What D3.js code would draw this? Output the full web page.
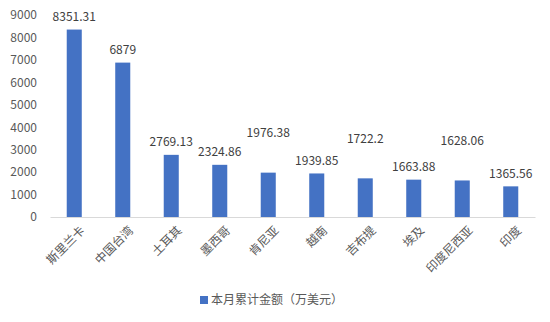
<!DOCTYPE html>
<html>
<head>
<meta charset="utf-8">
<script src="https://cdn.jsdelivr.net/npm/d3@7"></script>
<style>
  body { margin: 0; background: #fff; }
  text { font-family: "Noto Sans CJK SC", "Noto Sans", sans-serif; }
</style>
</head>
<body>
<svg width="550" height="322"></svg>
<script>
// data
var categories = ["斯里兰卡", "中国台湾", "土耳其", "墨西哥", "肯尼亚", "越南", "吉布提", "埃及", "印度尼西亚", "印度"];
var values = [8351.31, 6879, 2769.13, 2324.86, 1976.38, 1939.85, 1722.2, 1663.88, 1628.06, 1365.56];
var yTicks = [0, 1000, 2000, 3000, 4000, 5000, 6000, 7000, 8000, 9000];
var seriesName = "本月累计金额（万美元）";

var svg = d3.select("svg"),
    margin = { top: 15, right: 15, bottom: 105, left: 50 },
    width = +svg.attr("width") - margin.left - margin.right,
    height = +svg.attr("height") - margin.top - margin.bottom;

var x = d3.scaleBand().domain(categories).range([0, width]).paddingInner(0.69).paddingOuter(0.345),
    y = d3.scaleLinear().domain([0, 9000]).range([height, 0]);

var g = svg.append("g")
    .attr("transform", "translate(" + margin.left + "," + margin.top + ")");

// y axis, no line
var yAxis = g.append("g")
    .call(d3.axisLeft(y).tickValues(yTicks).tickSize(0).tickPadding(13).tickFormat(d3.format("d")));
yAxis.select(".domain").remove();
yAxis.selectAll("text").attr("fill", "#595959").style("font-size", "12px");

// x axis
var xAxis = g.append("g")
    .attr("transform", "translate(0," + height + ")")
    .call(d3.axisBottom(x).tickSize(0).tickSizeOuter(0));
xAxis.select(".domain").attr("stroke", "#d9d9d9");
xAxis.selectAll("text")
    .attr("fill", "#595959")
    .style("font-size", "12px")
    .attr("text-anchor", "end")
    .attr("dx", "-2px")
    .attr("dy", "15px")
    .attr("transform", "rotate(-45)");

// bars
g.selectAll(".bar")
    .data(values)
    .enter().append("rect")
    .attr("class", "bar")
    .attr("x", function(d, i) { return x(categories[i]); })
    .attr("y", function(d) { return y(d); })
    .attr("width", x.bandwidth())
    .attr("height", function(d) { return height - y(d); })
    .attr("fill", "#4472C4");

// value labels, some lifted like the original
var lifted = ["肯尼亚", "吉布提", "印度尼西亚"];
g.selectAll(".lbl")
    .data(values)
    .enter().append("text")
    .attr("class", "lbl")
    .attr("x", function(d, i) { return x(categories[i]) + x.bandwidth() / 2; })
    .attr("y", function(d, i) { return y(d) - (lifted.indexOf(categories[i]) >= 0 ? 40 : 13); })
    .attr("dy", "0.35em")
    .attr("text-anchor", "middle")
    .attr("fill", "#404040")
    .style("font-size", "12px")
    .text(function(d) { return d; });

// legend
var legend = svg.append("g").attr("transform", "translate(200,300)");
legend.append("rect").attr("x", 0).attr("y", -4).attr("width", 8).attr("height", 8).attr("fill", "#4472C4");
legend.append("text")
    .attr("x", 11).attr("dy", "0.35em")
    .attr("fill", "#595959")
    .style("font-size", "12px")
    .text(seriesName);
</script>
</body>
</html>
